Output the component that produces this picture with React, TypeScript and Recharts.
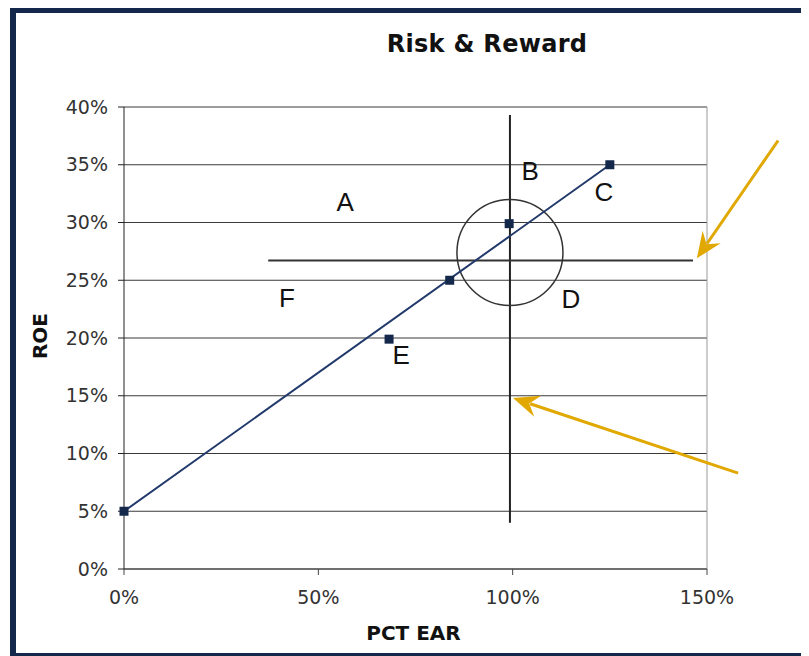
import {
  ScatterChart,
  Scatter,
  XAxis,
  YAxis,
  CartesianGrid,
  ReferenceLine,
  ReferenceDot,
  Label,
} from "recharts";

// scatter points (PCT EAR %, ROE %)
const pctEar = [0, 68.2, 83.8, 99.1, 125];
const roe = [5, 19.9, 25.0, 29.9, 35];

// fitted line end points
const trendX = [0, 125];
const trendY = [5, 35];

// quadrant letters
const letters = ["A", "B", "C", "D", "E", "F"];
const letterX = [56.9, 104.5, 123.5, 115.0, 71.3, 41.9];
const letterY = [31.8, 34.5, 32.6, 23.4, 18.5, 23.5];

const xTicks = [0, 50, 100, 150];
const yTicks = [0, 5, 10, 15, 20, 25, 30, 35, 40];

// annotation lines: [x1, y1, x2, y2]
const vLine = [99.3, 4.0, 99.3, 39.3];
const hLine = [37.1, 26.7, 146.4, 26.7];
const circle = { x: 99.3, y: 27.4 };
// orange arrows: tail -> head
const arrows = [
  [168.3, 37.1, 147.4, 26.9],
  [158.0, 8.3, 100.1, 14.8],
];

const points = pctEar.map((x, i) => ({ x, y: roe[i] }));
const trend = trendX.map((x, i) => ({ x, y: trendY[i] }));
const letterData = letters.map((t, i) => ({ x: letterX[i], y: letterY[i], t }));

const NAVY = "#14284b";
const ORANGE = "#e0a800";

const Arrow = (props: any) => {
  const { x1, y1, x2, y2 } = props;
  const ang = Math.atan2(y2 - y1, x2 - x1);
  const len = 26;
  const w = 11;
  const bx = x2 - len * Math.cos(ang);
  const by = y2 - len * Math.sin(ang);
  const px = -Math.sin(ang) * w;
  const py = Math.cos(ang) * w;
  return (
    <g>
      <line x1={x1} y1={y1} x2={bx + 8 * Math.cos(ang)} y2={by + 8 * Math.sin(ang)} stroke={ORANGE} strokeWidth={3} />
      <polygon
        points={`${x2},${y2} ${bx + px},${by + py} ${bx + 9 * Math.cos(ang)},${by + 9 * Math.sin(ang)} ${bx - px},${by - py}`}
        fill={ORANGE}
      />
    </g>
  );
};

const tickStyle = { fill: "#333", fontSize: 19, fontFamily: "DejaVu Sans" };

export default function App() {
  return (
    <div style={{ position: "relative", width: 809, height: 656, marginLeft: -8, marginTop: -8, background: "#fff" }}>
      <div
        style={{
          position: "absolute",
          left: 10,
          top: 7,
          right: 0,
          bottom: 0,
          borderLeft: `6px solid ${NAVY}`,
          borderTop: `6px solid ${NAVY}`,
          borderBottom: `3px solid ${NAVY}`,
        }}
      />
      <div
        style={{
          position: "absolute",
          left: 287,
          width: 400,
          top: 29,
          textAlign: "center",
          fontFamily: "DejaVu Sans",
          fontWeight: "bold",
          fontSize: 24,
          letterSpacing: 0.3,
          lineHeight: "30px",
          color: "#111",
        }}
      >
        Risk &amp; Reward
      </div>
      <div style={{ position: "absolute", left: 0, top: 0 }}>
        <ScatterChart width={809} height={656} margin={{ top: 107, right: 102, left: 24, bottom: 12 }}>
          <CartesianGrid vertical={false} stroke="#3a3a3a" strokeWidth={1.2} />
          <XAxis
            type="number"
            dataKey="x"
            domain={[0, 150]}
            ticks={xTicks}
            tickFormatter={(v) => `${v}%`}
            height={75}
            tick={tickStyle}
            tickSize={6}
            tickMargin={16}
            stroke="#444"
            interval={0}
          >
            <Label
              position="insideBottom"
              offset={4}
              content={({ viewBox }: any) => (
                <text
                  x={viewBox.x + viewBox.width / 2 - 2}
                  y={viewBox.y + viewBox.height - 4}
                  textAnchor="middle"
                  fontFamily="DejaVu Sans"
                  fontWeight="bold"
                  fontSize={20}
                  fill="#111"
                >
                  PCT EAR
                </text>
              )}
            />
          </XAxis>
          <YAxis
            type="number"
            dataKey="y"
            domain={[0, 40]}
            ticks={yTicks}
            tickFormatter={(v) => `${v}%`}
            width={100}
            tick={tickStyle}
            tickSize={6}
            tickMargin={10}
            stroke="#222"
            interval={0}
          >
            <Label
              content={({ viewBox }: any) => {
                const cx = viewBox.x + 15.5;
                const cy = viewBox.y + viewBox.height / 2 - 2;
                return (
                  <text
                    x={cx}
                    y={cy}
                    transform={`rotate(-90, ${cx}, ${cy})`}
                    textAnchor="middle"
                    dominantBaseline="central"
                    fontFamily="DejaVu Sans"
                    fontWeight="bold"
                    fontSize={20}
                    fill="#111"
                  >
                    ROE
                  </text>
                );
              }}
            />
          </YAxis>
          <ReferenceLine x={150} stroke="#999" strokeWidth={1} />
          <ReferenceLine
            segment={[
              { x: vLine[0], y: vLine[1] },
              { x: vLine[2], y: vLine[3] },
            ]}
            stroke="#222"
            strokeWidth={2}
          />
          <ReferenceLine
            segment={[
              { x: hLine[0], y: hLine[1] },
              { x: hLine[2], y: hLine[3] },
            ]}
            stroke="#333"
            strokeWidth={2}
          />
          <ReferenceDot x={circle.x} y={circle.y} r={53} fill="none" stroke="#333" strokeWidth={1.5} />
          <Scatter
            data={trend}
            line={{ stroke: "#22396b", strokeWidth: 2 }}
            shape={() => <g />}
            isAnimationActive={false}
          />
          <Scatter
            data={points}
            isAnimationActive={false}
            shape={(p: any) => <rect x={p.cx - 4.5} y={p.cy - 4.5} width={9} height={9} fill={NAVY} />}
          />
          <Scatter
            data={letterData}
            isAnimationActive={false}
            shape={(p: any) => (
              <text
                x={p.cx}
                y={p.cy}
                textAnchor="middle"
                dominantBaseline="central"
                fontFamily="Liberation Sans"
                fontSize={26}
                fill="#111"
              >
                {p.payload.t}
              </text>
            )}
          />
          {arrows.map((a, i) => (
            <ReferenceLine
              key={i}
              segment={[
                { x: a[0], y: a[1] },
                { x: a[2], y: a[3] },
              ]}
              ifOverflow="visible"
              shape={Arrow}
            />
          ))}
        </ScatterChart>
      </div>
    </div>
  );
}
